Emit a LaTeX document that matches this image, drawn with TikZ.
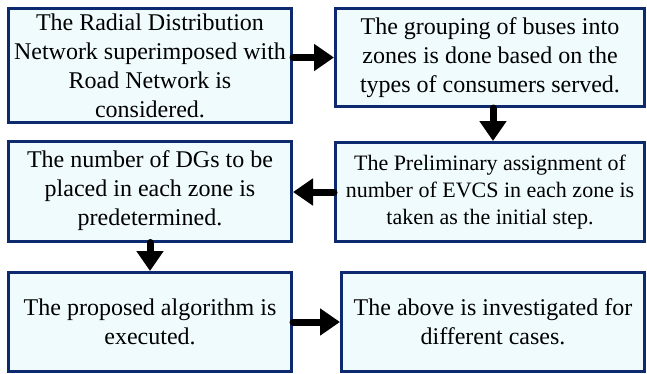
\documentclass[tikz,border=0pt]{standalone}
\usepackage{fontspec}
\setmainfont{Liberation Serif}
\usetikzlibrary{arrows.meta}
\definecolor{boxline}{HTML}{0E2A6E}
\definecolor{boxfill}{HTML}{F0FBFE}
\tikzset{
  stepbox/.style={draw=boxline,line width=3pt,fill=boxfill,align=center,
    inner sep=2pt,font=\fontsize{24}{29}\selectfont},
  flowarrow/.style={line width=7pt,line cap=round,
    -{Triangle[length=20pt,width=26pt]}}
}
\begin{document}
\begin{tikzpicture}[x=1pt,y=-1pt]
    \useasboundingbox (0,0) rectangle (647,373);
    \node[stepbox,minimum width=283pt,minimum height=114pt] (rdn) at (150,65.5)
      {The Radial Distribution\\Network superimposed with\\Road Network is\\considered.};
    \node[stepbox,minimum width=309pt,minimum height=98pt] (zones) at (490,57.5)
      {The grouping of buses into\\zones is done based on the\\types of consumers served.};
    \node[stepbox,minimum width=309pt,minimum height=99pt,
      font=\fontsize{22}{27}\selectfont] (evcs) at (490,192)
      {The Preliminary assignment of\\number of EVCS in each zone is\\taken as the initial step.};
    \node[stepbox,minimum width=283pt,minimum height=100pt] (dgs) at (150,191)
      {The number of DGs to be\\placed in each zone is\\predetermined.};
    \node[stepbox,minimum width=283pt,minimum height=99pt] (algo) at (150,322)
      {The proposed algorithm is\\executed.};
    \node[stepbox,minimum width=303pt,minimum height=99pt] (cases) at (493,322)
      {The above is investigated for\\different cases.};
    % arrows between the steps
    \draw[flowarrow] (rdn.east |- zones.west) -- (zones.west);
    \draw[flowarrow] (zones.south -| 493,0) -- (evcs.north -| 493,0);
    \draw[flowarrow] (evcs.west) -- (dgs.east |- evcs.west);
    \draw[flowarrow] (dgs.south) -- (algo.north);
    \draw[flowarrow] (algo.east) -- (cases.west);
\end{tikzpicture}
\end{document}
